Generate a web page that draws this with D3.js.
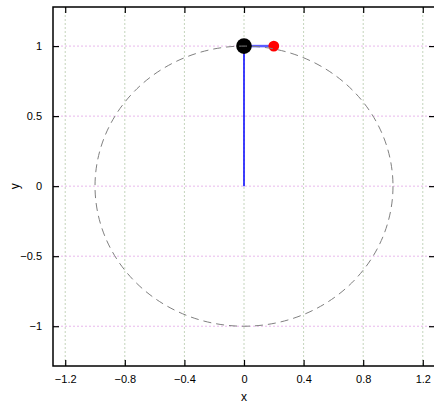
<!DOCTYPE html>
<html>
<head>
<meta charset="utf-8">
<script src="https://cdn.jsdelivr.net/npm/d3@7"></script>
<style>
  body { margin: 0; background: #fff; }
  text { font-family: Arial, "Liberation Sans", sans-serif; font-size: 11px; fill: #000; }
</style>
</head>
<body>
<script>
// valori
const xTicks = [-1.2, -0.8, -0.4, 0, 0.4, 0.8, 1.2];
const yTicks = [-1, -0.5, 0, 0.5, 1];
const origin = [0, 0];
const bigDot = [0, 1];     // punto nero
const smallDot = [0.2, 1]; // punto rosso
const radius = 1;          // cerchio tratteggiato

const width = 434, height = 404;
const marginLeft = 53, marginTop = 7, plotRight = 435, plotBottom = 366;

const x = d3.scaleLinear().domain([-1.282, 1.282]).range([marginLeft, plotRight]);
const y = d3.scaleLinear().domain([-1.284, 1.279]).range([plotBottom, marginTop]);

const svg = d3.create("svg").attr("width", width).attr("height", height);

// griglia
svg.append("g")
  .selectAll("line")
  .data(xTicks)
  .join("line")
  .attr("x1", d => x(d)).attr("x2", d => x(d))
  .attr("y1", marginTop).attr("y2", plotBottom)
  .attr("stroke", "#c4d4bc")
  .attr("stroke-dasharray", "2,2");

svg.append("g")
  .selectAll("line")
  .data(yTicks)
  .join("line")
  .attr("x1", marginLeft).attr("x2", plotRight)
  .attr("y1", d => y(d)).attr("y2", d => y(d))
  .attr("stroke", "#e8b8ec")
  .attr("stroke-dasharray", "2,2");

// linea blu dall'origine al punto nero
svg.append("line")
  .attr("x1", x(origin[0])).attr("y1", y(origin[1]))
  .attr("x2", x(bigDot[0])).attr("y2", y(bigDot[1]))
  .attr("stroke", "#0000ff")
  .attr("stroke-width", 1.5);

// linea dal punto nero al punto rosso
svg.append("line")
  .attr("x1", x(bigDot[0])).attr("y1", y(bigDot[1]))
  .attr("x2", x(smallDot[0])).attr("y2", y(smallDot[1]))
  .attr("stroke", "#5a5aff")
  .attr("stroke-width", 2.5);

svg.append("circle")
  .attr("cx", x(bigDot[0])).attr("cy", y(bigDot[1]))
  .attr("r", 7.8)
  .attr("fill", "#000");

svg.append("circle")
  .attr("cx", x(smallDot[0])).attr("cy", y(smallDot[1]))
  .attr("r", 5.4)
  .attr("fill", "#ff0000");

// cerchio tratteggiato
svg.append("ellipse")
  .attr("cx", x(0)).attr("cy", y(0))
  .attr("rx", x(radius) - x(0))
  .attr("ry", y(0) - y(radius))
  .attr("fill", "none")
  .attr("stroke", "#808080")
  .attr("stroke-width", 1)
  .attr("stroke-dasharray", "8,5");

// assi con tick interni
const tickLen = 6;
svg.append("g")
  .attr("transform", "translate(0," + plotBottom + ")")
  .call(d3.axisBottom(x).tickValues(xTicks).tickSizeInner(-tickLen).tickSizeOuter(0).tickPadding(9)
    .tickFormat(d => d3.format("")(d)))
  .call(g => g.select(".domain").remove());

svg.append("g")
  .attr("transform", "translate(0," + marginTop + ")")
  .call(d3.axisTop(x).tickValues(xTicks).tickSizeInner(-tickLen).tickSizeOuter(0).tickFormat(""))
  .call(g => g.select(".domain").remove());

svg.append("g")
  .attr("transform", "translate(" + marginLeft + ",0)")
  .call(d3.axisLeft(y).tickValues(yTicks).tickSizeInner(-tickLen).tickSizeOuter(0).tickPadding(11)
    .tickFormat(d => d3.format("")(d)))
  .call(g => g.select(".domain").remove());

svg.append("g")
  .attr("transform", "translate(" + plotRight + ",0)")
  .call(d3.axisRight(y).tickValues(yTicks).tickSizeInner(-tickLen).tickSizeOuter(0).tickFormat(""))
  .call(g => g.select(".domain").remove());

svg.selectAll(".tick line").attr("stroke", "#000").attr("stroke-width", 1.2);
svg.selectAll(".tick text").style("font-size", "11px").attr("fill", "#000");

// cornice
svg.append("rect")
  .attr("x", marginLeft).attr("y", marginTop)
  .attr("width", plotRight - marginLeft).attr("height", plotBottom - marginTop)
  .attr("fill", "none")
  .attr("stroke", "#000")
  .attr("stroke-width", 1.5);

// etichette assi
svg.append("text")
  .attr("x", x(0)).attr("y", 401)
  .attr("text-anchor", "middle")
  .style("font-size", "12px")
  .text("x");

svg.append("text")
  .attr("transform", "translate(19," + y(0) + ") rotate(-90)")
  .attr("text-anchor", "middle")
  .style("font-size", "12px")
  .text("y");

document.body.appendChild(svg.node());
</script>
</body>
</html>
